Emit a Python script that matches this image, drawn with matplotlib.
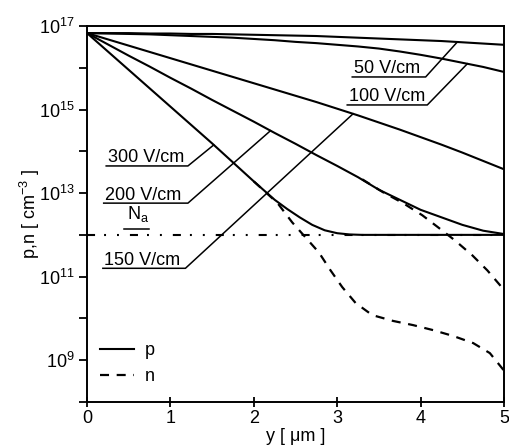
import numpy as np
import matplotlib
matplotlib.use("Agg")
import matplotlib.pyplot as plt
from matplotlib.ticker import FixedLocator, FuncFormatter, NullLocator

plt.rcParams['font.family'] = ['Liberation Sans', 'DejaVu Sans']
plt.rcParams['mathtext.fontset'] = 'custom'
plt.rcParams['mathtext.rm'] = 'Liberation Sans'
plt.rcParams['mathtext.it'] = 'Liberation Sans:italic'
plt.rcParams['lines.scale_dashes'] = False

# log10 of p along y [um]
y_um = [0, 0.25, 0.5, 0.75, 1, 1.25, 1.5, 1.75, 2, 2.25, 2.5, 2.75,
        3, 3.25, 3.5, 3.75, 4, 4.25, 4.5, 4.75, 5]
p_50 = [16.83, 16.83, 16.83, 16.82, 16.82, 16.81, 16.81, 16.80, 16.79, 16.78, 16.77,
        16.76, 16.74, 16.72, 16.70, 16.68, 16.66, 16.64, 16.61, 16.58, 16.55]
p_100 = [16.83, 16.82, 16.81, 16.80, 16.78, 16.76, 16.74, 16.72, 16.69, 16.66, 16.62,
         16.59, 16.55, 16.51, 16.46, 16.39, 16.31, 16.22, 16.12, 16.02, 15.90]
p_150 = [16.83, 16.68, 16.53, 16.38, 16.23, 16.08, 15.93, 15.78, 15.63, 15.48, 15.33,
         15.18, 15.02, 14.86, 14.69, 14.52, 14.34, 14.16, 13.97, 13.77, 13.57]
p_200 = [16.83, 16.56, 16.29, 16.03, 15.76, 15.50, 15.23, 14.97, 14.71, 14.44, 14.18,
         13.91, 13.65, 13.38, 13.08, 12.84, 12.60, 12.42, 12.24, 12.10, 12.02]

# 300 V/cm bends into Na, so it gets its own finer grid
p_300_y = [0, 0.5, 1, 1.5, 2, 2.25, 2.4, 2.55, 2.7, 2.85, 3.0, 3.15, 3.3, 5]
p_300 = [16.83, 15.95, 15.07, 14.19, 13.28, 12.84, 12.62, 12.42, 12.24, 12.11, 12.04,
         12.01, 12.0, 12.0]

# n where it leaves p
n_200_y = [3.3, 3.55, 3.79, 4.02, 4.21, 4.41, 4.62, 4.80, 4.95, 5.0]
n_200 = [13.33, 13.02, 12.76, 12.47, 12.18, 11.87, 11.51, 11.15, 10.80, 10.68]
n_300_y = [2.0, 2.285, 2.46, 2.62, 2.78, 2.92, 3.06, 3.22, 3.42, 3.67, 3.91,
           4.15, 4.39, 4.63, 4.83, 5.0]
n_300 = [13.28, 12.76, 12.30, 11.94, 11.58, 11.15, 10.75, 10.37, 10.08, 9.94, 9.84,
         9.72, 9.58, 9.41, 9.17, 8.75]

Na = 1e12

fields = ['50 V/cm', '100 V/cm', '150 V/cm', '200 V/cm', '300 V/cm']
curves_y = [y_um, y_um, y_um, y_um, p_300_y]
curves = [p_50, p_100, p_150, p_200, p_300]
# label: underline start x, corner x, underline log10 height, curve point x
label_x0 = [3.18, 3.12, 0.19, 0.20, 0.23]
label_x1 = [4.06, 4.08, 1.18, 1.21, 1.21]
label_h = [15.78, 15.11, 11.20, 12.76, 13.65]
label_to = [4.44, 4.56, 3.19, 2.20, 1.52]

fig = plt.figure(figsize=(5.1, 4.46), dpi=100)
ax = fig.add_axes([0.1706, 0.0987, 0.8177, 0.843])

ax.plot([0, 5], [Na, Na], color='black', lw=1.5,
        dashes=(5.8, 6.5, 1.4, 7.9, 1.4, 7.9))

lines = []
for cy, c in zip(curves_y, curves):
    l, = ax.plot(cy, 10 ** np.array(c), color='black', lw=1.5)
    lines.append(l)

n_line, = ax.plot(n_200_y, 10 ** np.array(n_200), color='black', lw=1.6, dashes=(6.5, 5.5))
ax.plot(n_300_y, 10 ** np.array(n_300), color='black', lw=1.6, dashes=(6.5, 5.5))

for name, cy, c, x0, x1, h, xt in zip(fields, curves_y, curves, label_x0, label_x1,
                                      label_h, label_to):
    yt = np.interp(xt, cy, c)
    ax.plot([x0, x1, xt], [10 ** h, 10 ** h, 10 ** yt], color='black', lw=1.1)
    ax.annotate(name, xy=(x0, 10 ** h), xytext=(1, 2.5), textcoords='offset points',
                va='baseline', ha='left', fontsize=13)

ax.plot([0.44, 0.74], [10 ** 12.14, 10 ** 12.14], color='black', lw=1.1)
ax.annotate('N$_\\mathregular{a}$', xy=(0.48, 10 ** 12.14), xytext=(0, 7),
            textcoords='offset points', va='baseline', ha='left', fontsize=13)

ax.set_yscale('log')
ax.set_xlim(0, 5)
ax.set_ylim(1e8, 1e17)

exps = list(range(8, 18))
ax.yaxis.set_major_locator(FixedLocator([10.0 ** e for e in exps]))
ax.yaxis.set_minor_locator(NullLocator())
ax.yaxis.set_major_formatter(FuncFormatter(
    lambda v, pos: '$\\mathregular{10^{%d}}$' % round(np.log10(v)) if round(np.log10(v)) % 2 == 1 else ''))
ax.set_xticks([0, 1, 2, 3, 4, 5])

ax.tick_params(axis='y', direction='out', length=6, width=1.3, pad=3, labelsize=13)
ax.tick_params(axis='x', direction='inout', length=7, width=1.3, pad=2, labelsize=13)
for s in ax.spines.values():
    s.set_linewidth(1.4)

ax.set_xlabel('y [ μm ]', fontsize=13, labelpad=1)
ax.set_ylabel('p,n [ cm$^{\\mathregular{-3}}$ ]', fontsize=13, labelpad=-2)

ax.legend([lines[0], n_line], ['p', 'n'], loc='lower left', bbox_to_anchor=(0.03, 0.045),
          frameon=False, handlelength=1.9, handletextpad=0.6, labelspacing=0.5,
          borderpad=0, borderaxespad=0, fontsize=13)

fig.savefig('out.png', dpi=100)
